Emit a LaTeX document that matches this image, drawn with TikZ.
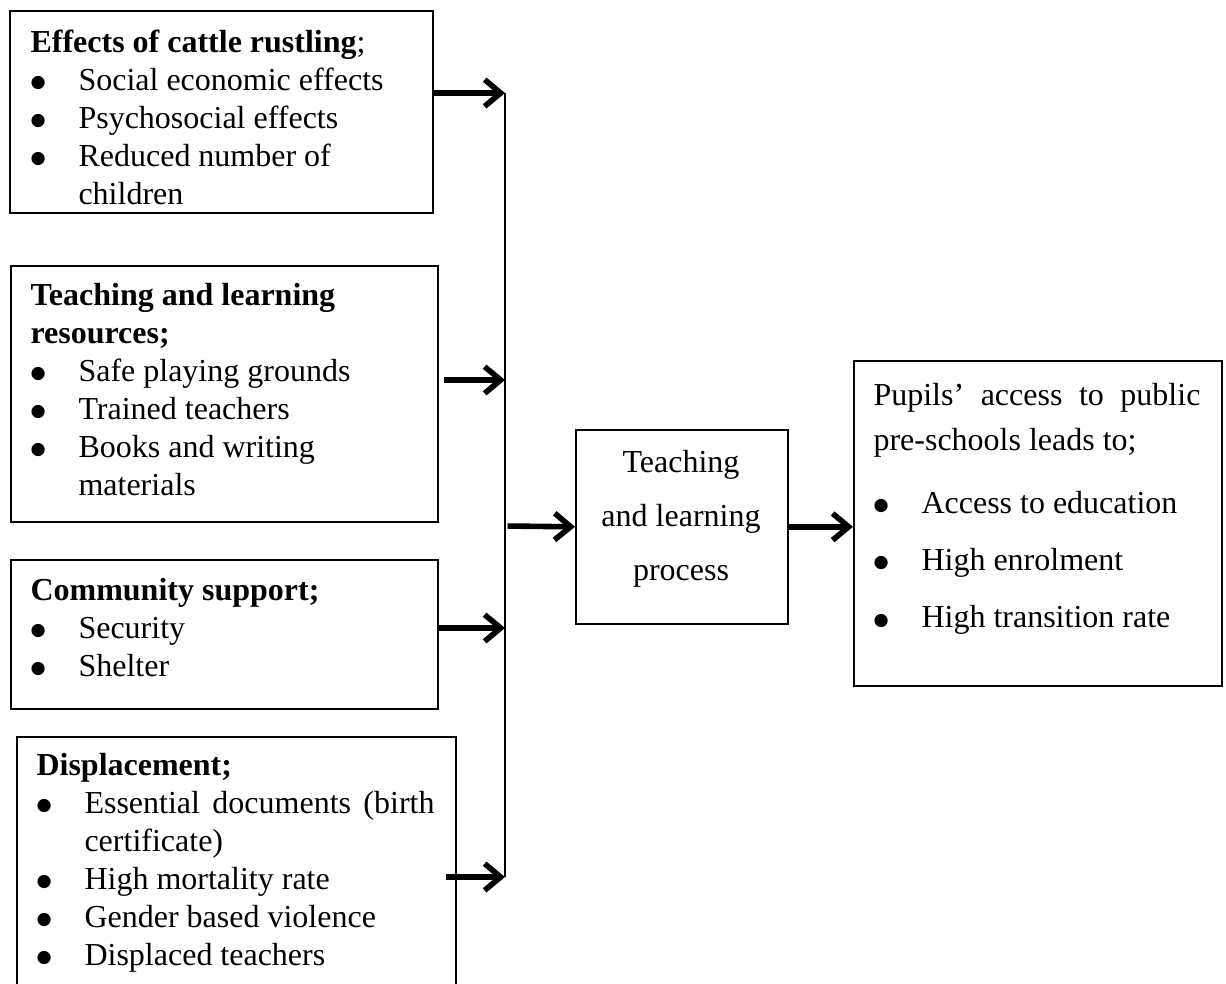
\documentclass[tikz,border=0pt]{standalone}
\usepackage{fontspec}
\setmainfont{Liberation Serif}
\newfontfamily\symfont{DejaVu Sans}
\usetikzlibrary{arrows.meta, positioning, calc}

\tikzset{
  box/.style={draw, line width=0.6pt, anchor=north west, inner sep=0pt},
  txt/.style={anchor=base west, inner sep=0pt, font=\fontsize{12}{14.25}\selectfont},
  flow/.style={line width=2.1pt, -{Straight Barb[length=6pt, width=10pt]}},
}
\newcommand{\bitem}[1]{\makebox[18pt][l]{\raisebox{0.8pt}{\symfont\fontsize{6.5}{7}\selectfont ●}}#1}
\newcommand{\bcont}[1]{\hspace*{18pt}#1}

\begin{document}
\begin{tikzpicture}[x=0.375pt, y=-0.375pt]
\useasboundingbox (0,0) rectangle (1226,983);
\clip (0,0) rectangle (1226,983);

% Input boxes
\node[box, minimum width=423*0.375pt, minimum height=202*0.375pt] (effects) at (9,10) {};
\node[box, minimum width=427*0.375pt, minimum height=256*0.375pt] (resources) at (10,265) {};
\node[box, minimum width=427*0.375pt, minimum height=149*0.375pt] (community) at (10,559) {};
\node[box, minimum width=439*0.375pt, minimum height=280*0.375pt] (displace) at (16,736) {};

\node[txt] (effects-txt) at (30,52) {\parbox[t]{170pt}{\textbf{Effects of cattle rustling};\\
  \bitem{Social economic effects}\\
  \bitem{Psychosocial effects}\\
  \bitem{Reduced number of}\\
  \bcont{children}}};

\node[txt] (resources-txt) at (30,305) {\parbox[t]{170pt}{\textbf{Teaching and learning}\\
  \textbf{resources;}\\
  \bitem{Safe playing grounds}\\
  \bitem{Trained teachers}\\
  \bitem{Books and writing}\\
  \bcont{materials}}};

\node[txt] (community-txt) at (30,600) {\parbox[t]{170pt}{\textbf{Community support;}\\
  \bitem{Security}\\
  \bitem{Shelter}}};

\node[txt] (displace-txt) at (36,775) {\parbox[t]{170pt}{\textbf{Displacement;}\\
  \bitem{\makebox[131.25pt][s]{Essential documents (birth}}\\
  \bcont{certificate)}\\
  \bitem{High mortality rate}\\
  \bitem{Gender based violence}\\
  \bitem{Displaced teachers}}};

% Process and outcome
\node[box, minimum width=212*0.375pt, minimum height=194*0.375pt] (process) at (575,429) {};
\node[txt, anchor=base, font=\fontsize{12}{20.25}\selectfont] (process-txt) at (681,472)
  {\parbox[t]{76pt}{\centering Teaching\\ and learning\\ process}};

\node[box, minimum width=368*0.375pt, minimum height=325*0.375pt] (access) at (853,360) {};
\node[txt, font=\fontsize{12}{21.4}\selectfont] (access-txt) at (873,405) {\parbox[t]{130pt}{%
  \makebox[122.6pt][s]{Pupils’ access to public}\\[-4.5pt]
  pre-schools leads to;\\[2.2pt]
  \bitem{Access to education}\\
  \bitem{High enrolment}\\
  \bitem{High transition rate}}};

% Collecting line
\coordinate (j1) at (505,93);
\coordinate (j2) at (505,380);
\coordinate (j3) at (505,628);
\coordinate (j4) at (505,877);
\coordinate (jm) at (505,526);
\draw[line width=0.6pt] (j1) -- (j4);

\draw[flow] (effects.east |- j1) -- (j1);
\draw[flow, shorten <=2pt] (resources.east |- j2) -- (j2);
\draw[flow] (community.east |- j3) -- (j3);
\draw[flow, shorten <=-4pt] (displace.east |- j4) -- (j4);
\draw[flow, shorten <=1pt] (jm) -- (process.west);
\draw[flow] (process.east) -- (process.east -| access.west);
\end{tikzpicture}
\end{document}
